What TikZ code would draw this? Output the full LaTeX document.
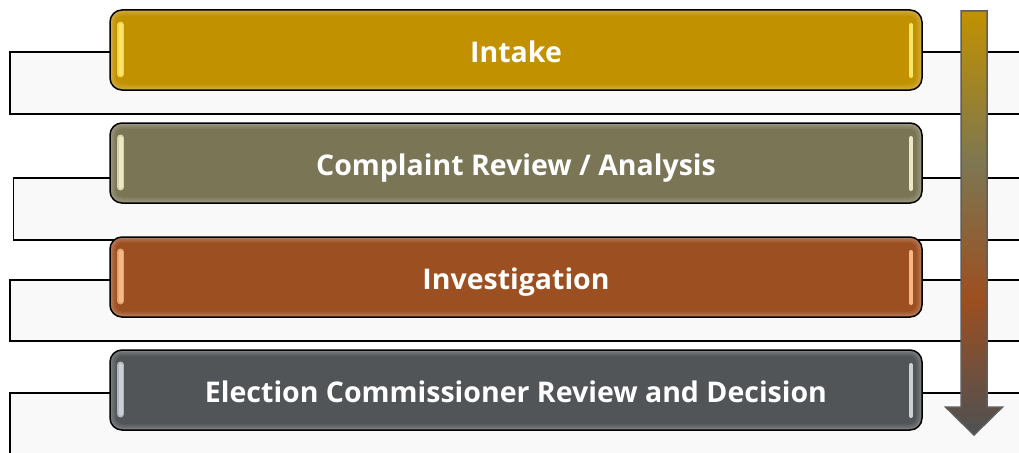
\documentclass[tikz,border=0pt]{standalone}
\usepackage{fontspec}
\setmainfont{Open Sans}
\definecolor{cIntake}{HTML}{C19100}
\definecolor{hIntake}{HTML}{FAE46A}
\definecolor{cReview}{HTML}{7A7555}
\definecolor{hReview}{HTML}{EDE8C4}
\definecolor{cInvest}{HTML}{9C4F20}
\definecolor{hInvest}{HTML}{F5B887}
\definecolor{cDecide}{HTML}{515557}
\definecolor{hDecide}{HTML}{C9D0D6}
\definecolor{panelfill}{HTML}{F9F9F9}
\definecolor{arrowedge}{HTML}{5E5E5E}
\pgfdeclareverticalshading{flowshade}{100bp}{%
  color(0bp)=(cDecide!95!black); color(25bp)=(cDecide!95!black);
  color(41bp)=(cInvest); color(57bp)=(cReview!95!cIntake);
  color(75bp)=(cIntake); color(100bp)=(cIntake)}
\tikzset{
  x=1pt, y=-1pt,
  panel/.style={draw=black, line width=1.4pt, fill=panelfill},
  stagebox/.style={
    rectangle, rounded corners=12pt, draw=black, line width=1.5pt,
    minimum width=812pt, minimum height=80pt, inner sep=0pt,
    text height=24.3pt, text depth=0pt,
    fill=c#1, text=white, font=\bfseries\fontsize{28.5}{32}\selectfont,
    path picture={
      \draw[c#1!92!white, line width=11pt, rounded corners=12pt]
        (path picture bounding box.north west) rectangle (path picture bounding box.south east);
      \draw[c#1!84!white, line width=7pt, rounded corners=12pt]
        (path picture bounding box.north west) rectangle (path picture bounding box.south east);
      \draw[c#1!76!white, line width=3.5pt, rounded corners=12pt]
        (path picture bounding box.north west) rectangle (path picture bounding box.south east);
      \draw[h#1!80!c#1, line width=7pt, line cap=round]
        ([xshift=10.5pt,yshift=-15pt]path picture bounding box.north west) --
        ([xshift=10.5pt,yshift=16pt]path picture bounding box.south west);
      \draw[h#1, line width=3.5pt, line cap=round]
        ([xshift=11pt,yshift=-15pt]path picture bounding box.north west) --
        ([xshift=11pt,yshift=16pt]path picture bounding box.south west);
      \draw[h#1, line width=4pt, line cap=round]
        ([xshift=-11pt,yshift=-15pt]path picture bounding box.north east) --
        ([xshift=-11pt,yshift=14pt]path picture bounding box.south east);
    }},
  flowarrow/.style={draw=arrowedge, line width=1.5pt, shading=flowshade}
}
\begin{document}
\begin{tikzpicture}
\useasboundingbox (0,0) rectangle (1019,452);
\clip (0,0) rectangle (1019,452);
\fill[white] (0,0) rectangle (1019,452);
% panels
\draw[panel] (10,52) rectangle (1040,114);
\draw[panel] (13.5,178) rectangle (1040,240);
\draw[panel] (10,280) rectangle (1040,341);
\draw[panel] (10,393) rectangle (1040,470);
% stage boxes
\node[stagebox=Intake] (intake) at (516,50) {Intake};
\node[stagebox=Review] (review) at (516,163) {Complaint Review / Analysis};
\node[stagebox=Invest] (invest) at (516,277) {Investigation};
\node[stagebox=Decide] (decide) at (516,390) {Election Commissioner Review and Decision};
% progress arrow
\path[flowarrow] (961,11) -- (987,11) -- (987,407) -- (1002.5,407) -- (974,435)
  -- (945.5,407) -- (961,407) -- cycle;
\end{tikzpicture}
\end{document}
